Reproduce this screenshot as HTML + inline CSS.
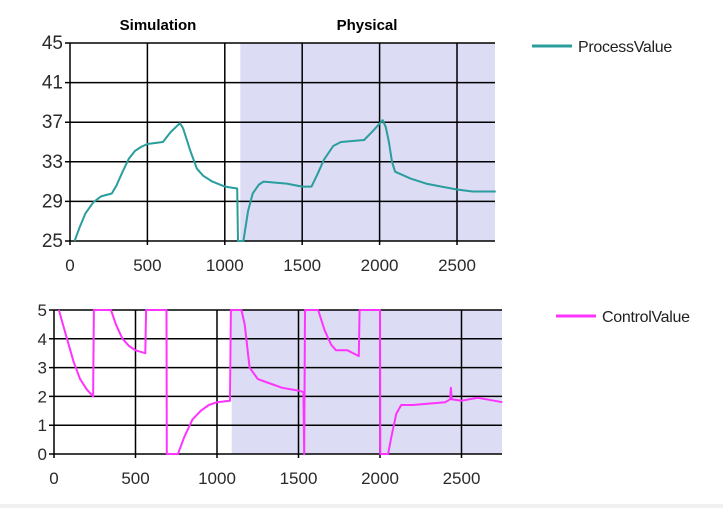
<!DOCTYPE html>
<html><head><meta charset="utf-8"><style>
html,body{margin:0;padding:0;background:#fff;}
svg{display:block;font-family:"Liberation Sans",sans-serif;}
</style></head><body>
<svg id="c" width="723" height="508">
<rect x="0" y="504" width="723" height="4" fill="#f0f0f0"/>
</svg>
<script>
const pvT=[30,60,100,150,200,270,300,340,380,420,460,500,600,650,710,730,780,820,860,920,1000,1080,1085,1120,1150,1180,1220,1250,1400,1500,1560,1600,1640,1700,1750,1900,1950,2020,2040,2060,2080,2100,2200,2300,2400,2500,2600,2750];
const pvV=[25,26.3,27.8,28.9,29.5,29.8,30.6,32,33.3,34.1,34.5,34.8,35,36,36.9,36.4,34,32.3,31.6,31,30.5,30.3,25,25,28,29.8,30.7,31,30.8,30.5,30.5,31.8,33.2,34.6,35,35.2,36,37.2,36.5,35,33,32,31.3,30.8,30.5,30.2,30,30];
const cvT=[30,50,80,120,160,200,240,245,350,380,420,460,500,560,565,690,692,760,800,850,900,950,1000,1080,1085,1150,1170,1200,1250,1300,1400,1500,1530,1535,1540,1620,1660,1700,1730,1800,1870,1875,2000,2002,2050,2070,2100,2130,2200,2300,2400,2430,2435,2440,2500,2600,2700,2750];
const cvV=[5,4.6,4,3.2,2.6,2.25,2.0,5,5,4.5,4,3.75,3.6,3.5,5,5,0,0,0.6,1.2,1.5,1.7,1.8,1.85,5,5,4.5,3,2.6,2.5,2.3,2.2,2.15,0,5,5,4.3,3.8,3.6,3.6,3.4,5,5,0,0,0.6,1.4,1.7,1.7,1.75,1.8,1.9,2.3,1.9,1.85,1.95,1.85,1.8];
const topY=[25,29,33,37,41,45];
const botY=[0,1,2,3,4,5];
const xT=[0,500,1000,1500,2000,2500];
const svg=document.getElementById('c');
const NS='http://www.w3.org/2000/svg';
function mk(t,a,p){const e=document.createElementNS(NS,t);for(const k in a)e.setAttribute(k,a[k]);(p||svg).appendChild(e);return e;}
function chart(o){
 const sx=v=>o.x0+(v/500)*o.px500, sy=v=>o.yb-(v-o.ymin)/(o.ymax-o.ymin)*(o.yb-o.yt);
 const g=mk('g',{});
 
 
 const sh=mk('rect',{x:sx(o.shade),y:o.yt,width:o.xr-sx(o.shade),height:o.yb-o.yt,fill:'#dcdcf4'},g);
 
 
 o.yt2.forEach(v=>{const l=mk('line',{x1:o.x0-5,x2:o.xr,y1:sy(v),y2:sy(v),stroke:'#000','stroke-width':1.5},g);
  
  const t=mk('text',{x:o.x0-7,y:sy(v)+6,'text-anchor':'end','font-size':o.fs,fill:'#2a2a2a'},g);t.textContent=v;
  });
 xT.forEach(v=>{const l=mk('line',{x1:sx(v),x2:sx(v),y1:o.yt,y2:o.yb+4,stroke:'#000','stroke-width':1.5},g);
  
  const t=mk('text',{x:sx(v),y:o.yb+30,'text-anchor':'middle','font-size':17,fill:'#2a2a2a'},g);t.textContent=v;
  });
 let d='';o.t.forEach((t,i)=>{d+=(i?'L':'M')+sx(t).toFixed(1)+','+sy(o.v[i]).toFixed(1);});
 const p=mk('path',{d:d,fill:'none',stroke:o.col,'stroke-width':2,'stroke-linejoin':'round'},g);
 
 const ll=mk('line',{x1:o.lx,x2:o.lx+40,y1:o.ly,y2:o.ly,stroke:o.col,'stroke-width':3},g);
 
 const lt=mk('text',{x:o.lx+46,y:o.ly+6,'font-size':16,fill:'#222','letter-spacing':-0.3},g);lt.textContent=o.label;
 
}
chart({name:'process-chart',series:'process-value-line',x0:70,px500:77.4,xr:495,yt:43,yb:241,ymin:25,ymax:45,yt2:topY,fs:19,shade:1100,t:pvT,v:pvV,col:'#2a9d9d',lx:532,ly:46,label:'ProcessValue'});
chart({name:'control-chart',series:'control-value-line',x0:54,px500:81.5,xr:502,yt:310,yb:454,ymin:0,ymax:5,yt2:botY,fs:17,shade:1090,t:cvT,v:cvV,col:'#ff33ff',lx:556,ly:316,label:'ControlValue'});
[['Simulation',158],['Physical',367]].forEach(a=>{const t=mk('text',{x:a[1],y:30,'text-anchor':'middle','font-size':15,'font-weight':'bold',fill:'#000'});t.textContent=a[0];
 });
</script>
</body></html>
